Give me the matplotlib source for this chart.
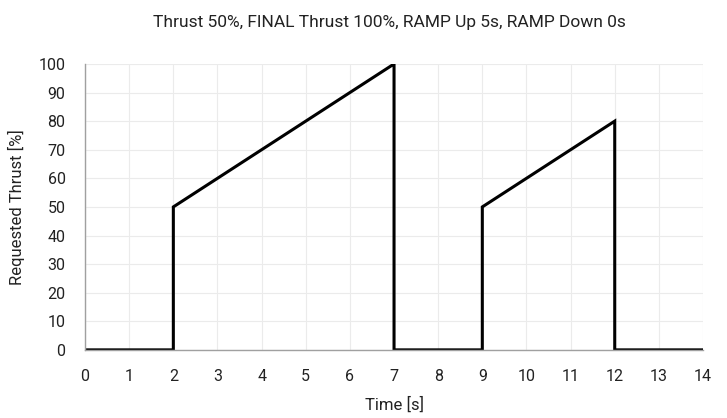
import matplotlib
matplotlib.use("Agg")
import matplotlib.pyplot as plt

# thrust profile
time_s = [0, 2, 2, 7, 7, 9, 9, 12, 12, 14]
thrust_pct = [0, 0, 50, 100, 0, 0, 50, 80, 0, 0]
x_ticks = list(range(0, 15))
y_ticks = list(range(0, 101, 10))

plt.rcParams['font.family'] = ['Roboto', 'DejaVu Sans']

fig = plt.figure(figsize=(7.27, 4.18), dpi=100)
ax = fig.add_axes([0.117, 0.163, 0.850, 0.684])

ax.plot(time_s, thrust_pct, color='black', linewidth=2.2, solid_joinstyle='miter')

ax.set_xlim(0, 14)
ax.set_ylim(0, 100)
ax.set_xticks(x_ticks)
ax.set_yticks(y_ticks)
ax.grid(True, color='#ebebeb', linewidth=0.8)
ax.set_axisbelow(True)

for s in ['top', 'right']:
    ax.spines[s].set_visible(False)
for s in ['left', 'bottom']:
    ax.spines[s].set_color('#a0a0a0')
    ax.spines[s].set_linewidth(1.0)

ax.tick_params(length=0, labelsize=11.5, colors='#222222')
ax.tick_params(axis='x', pad=14)
ax.tick_params(axis='y', pad=14)
ax.set_xlabel('Time [s]', fontsize=12, color='#222222', labelpad=9)
ax.set_ylabel('Requested Thrust [%]', fontsize=12, color='#222222', labelpad=10)
fig.suptitle('Thrust 50%, FINAL Thrust 100%, RAMP Up 5s, RAMP Down 0s',
             x=0.535, y=0.965, fontsize=12.5, color='#222222')

fig.savefig('out.png', dpi=100)
